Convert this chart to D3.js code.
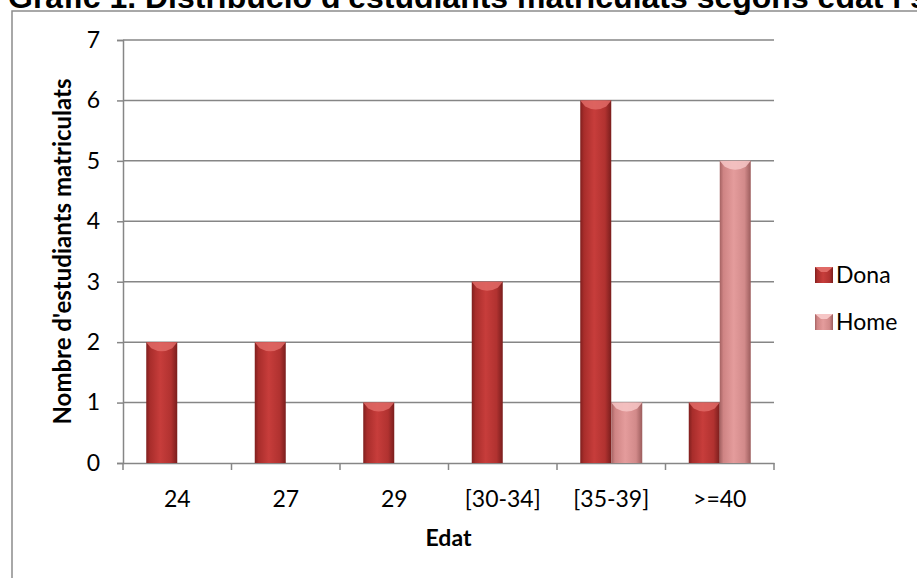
<!DOCTYPE html>
<html>
<head>
<meta charset="utf-8">
<script src="https://cdn.jsdelivr.net/npm/d3@7"></script>
<style>
  body { margin: 0; background: #fff; }
  svg { display: block; }
</style>
</head>
<body>
<svg id="chart"></svg>
<script>
// data
let categories = ["24", "27", "29", "[30-34]", "[35-39]", ">=40"];
let series = ["Dona", "Home"];
let dona = [2, 2, 1, 3, 6, 1];
let home = [0, 0, 0, 0, 1, 5];
let yTicks = [0, 1, 2, 3, 4, 5, 6, 7];

let titleText = "Gràfic 1. Distribució d'estudiants matriculats segons edat i sexe";
let yTitle = "Nombre d'estudiants matriculats";
let xTitle = "Edat";

function getConfig() {
    let width = 917;
    let height = 578;
    let margin = { top: 40, bottom: 115, left: 123, right: 143 };
    let bodyWidth = width - margin.left - margin.right;
    let bodyHeight = height - margin.top - margin.bottom;
    let container = d3.select("#chart")
        .attr("width", width)
        .attr("height", height);
    return { width, height, margin, bodyWidth, bodyHeight, container };
}

function getScales(config) {
    let { margin, bodyWidth, bodyHeight } = config;
    let xScale = d3.scaleBand()
        .domain(categories)
        .range([margin.left, margin.left + bodyWidth]);
    // gap width 150% of one bar
    let inner = d3.scaleBand()
        .domain(series)
        .range([0, xScale.bandwidth()])
        .paddingOuter(0.75);
    let yScale = d3.scaleLinear()
        .domain([0, 7])
        .range([margin.top + bodyHeight, margin.top]);
    let cscale = d3.scaleOrdinal()
        .domain(series)
        .range(["url(#gDona)", "url(#gHome)"]);
    let capColor = d3.scaleOrdinal()
        .domain(series)
        .range(["#e06a66", "#f6c6c6"]);
    return { xScale, inner, yScale, cscale, capColor };
}

function defs(container) {
    let d = container.append("defs");
    let g1 = d.append("linearGradient").attr("id", "gDona");
    [[0, "#7f1f1e"], [0.12, "#a82d2b"], [0.45, "#c73d3b"], [0.8, "#b13230"], [1, "#7a1e1d"]]
        .forEach(s => g1.append("stop").attr("offset", s[0]).attr("stop-color", s[1]));
    let g2 = d.append("linearGradient").attr("id", "gHome");
    [[0, "#a46262"], [0.12, "#cf8484"], [0.45, "#e49c9c"], [0.8, "#d28a8a"], [1, "#9c5d5d"]]
        .forEach(s => g2.append("stop").attr("offset", s[0]).attr("stop-color", s[1]));
}

function drawFrame(config) {
    let { container } = config;
    container.append("rect")
        .attr("x", 12)
        .attr("y", 11)
        .attr("width", 1000)
        .attr("height", 700)
        .attr("fill", "none")
        .attr("stroke", "#8c8c8c")
        .attr("stroke-width", 1.5);
    // title is cropped by the top edge in the original picture
    container.append("text")
        .attr("x", 8)
        .attr("y", 8)
        .text(titleText)
        .style("font-family", "'Liberation Sans', Arial, sans-serif")
        .style("font-weight", "bold")
        .style("font-size", "32px")
        .attr("fill", "#000");
}

function drawAxes(config, scales) {
    let { container, margin, bodyWidth, bodyHeight } = config;
    let { xScale, yScale } = scales;
    let axisColor = "#868686";
    let font = "Lato, 'Open Sans', sans-serif";

    // gridlines
    container.append("g")
        .selectAll("line")
        .data(yTicks.slice(1))
        .enter().append("line")
        .attr("x1", margin.left)
        .attr("x2", margin.left + bodyWidth)
        .attr("y1", d => yScale(d))
        .attr("y2", d => yScale(d))
        .attr("stroke", axisColor)
        .attr("stroke-width", 1.5);

    let yAxis = d3.axisLeft(yScale).tickValues(yTicks).tickFormat(d3.format("d")).tickSize(6);
    let yg = container.append("g")
        .attr("transform", "translate(" + margin.left + ",0)")
        .call(yAxis);
    yg.select(".domain").attr("stroke", axisColor).attr("stroke-width", 1.5);
    yg.selectAll(".tick line").attr("stroke", axisColor).attr("stroke-width", 1.5);
    yg.selectAll(".tick text")
        .style("font-family", font)
        .style("font-size", "23px")
        .attr("fill", "#000")
        .attr("x", -23);

    let xAxis = d3.axisBottom(xScale).tickSize(0).tickPadding(28);
    let xg = container.append("g")
        .attr("transform", "translate(0," + (margin.top + bodyHeight) + ")")
        .call(xAxis);
    xg.select(".domain").attr("stroke", axisColor).attr("stroke-width", 1.5);
    xg.selectAll(".tick text")
        .style("font-family", font)
        .style("font-size", "23px")
        .attr("fill", "#000");
    // category separators
    let edges = categories.map(c => xScale(c)).concat([margin.left + bodyWidth]);
    xg.selectAll(".sep")
        .data(edges)
        .enter().append("line")
        .attr("x1", d => d)
        .attr("x2", d => d)
        .attr("y1", 0)
        .attr("y2", 7)
        .attr("stroke", axisColor)
        .attr("stroke-width", 1.5);

    container.append("text")
        .attr("transform", "translate(71," + (margin.top + bodyHeight / 2) + ") rotate(-90)")
        .attr("text-anchor", "middle")
        .text(yTitle)
        .style("font-family", font)
        .style("font-weight", "bold")
        .style("font-size", "24px");

    container.append("text")
        .attr("x", margin.left + bodyWidth / 2)
        .attr("y", 546)
        .attr("text-anchor", "middle")
        .text(xTitle)
        .style("font-family", font)
        .style("font-weight", "bold")
        .style("font-size", "23px");
}

function drawBars(config, scales) {
    let { container } = config;
    let { xScale, inner, yScale, cscale, capColor } = scales;
    let rows = [];
    categories.forEach((c, i) => {
        rows.push({ cat: c, s: "Dona", v: dona[i] });
        rows.push({ cat: c, s: "Home", v: home[i] });
    });
    rows = rows.filter(d => d.v > 0);
    let w = inner.bandwidth();

    let bars = container.append("g").selectAll("g")
        .data(rows)
        .enter().append("g");

    bars.append("rect")
        .attr("x", d => xScale(d.cat) + inner(d.s))
        .attr("y", d => yScale(d.v))
        .attr("width", w)
        .attr("height", d => yScale(0) - yScale(d.v))
        .attr("fill", d => cscale(d.s));

    // bevelled cap at the top
    bars.append("path")
        .attr("d", d => {
            let x = xScale(d.cat) + inner(d.s);
            let y = yScale(d.v);
            return "M" + x + "," + y + " L" + (x + w) + "," + y +
                " L" + (x + w - 5) + "," + (y + 6) +
                " Q" + (x + w / 2) + "," + (y + 12) + " " + (x + 5) + "," + (y + 6) + " Z";
        })
        .attr("fill", d => capColor(d.s))
        .attr("opacity", 0.85);
}

function legend(config, scales) {
    let { container } = config;
    let { cscale, capColor } = scales;
    let items = container.append("g").selectAll("g")
        .data(series)
        .enter().append("g")
        .attr("transform", (d, i) => "translate(815," + (267 + i * 47) + ")");
    items.append("rect")
        .attr("width", 18)
        .attr("height", 16)
        .attr("fill", d => cscale(d));
    items.append("path")
        .attr("d", "M0,0 L18,0 L12,5 L6,5 Z")
        .attr("fill", d => capColor(d));
    items.append("text")
        .attr("x", 21)
        .attr("y", 16)
        .text(d => d)
        .style("font-family", "Lato, 'Open Sans', sans-serif")
        .style("font-size", "23px");
}

let cConfig = getConfig();
defs(cConfig.container);
let scales = getScales(cConfig);
drawFrame(cConfig);
drawAxes(cConfig, scales);
drawBars(cConfig, scales);
legend(cConfig, scales);
</script>
</body>
</html>
